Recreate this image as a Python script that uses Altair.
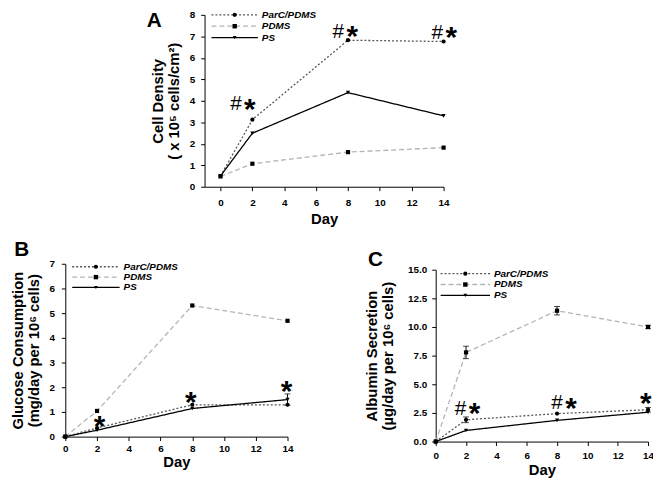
import altair as alt
import pandas as pd

FONT = "Liberation Sans"

days = [0, 2, 8, 14]
series = ["ParC/PDMS", "PDMS", "PS"]
x_ticks = [0, 2, 4, 6, 8, 10, 12, 14]

# Panel A - cell density
a_parc = [0.5, 3.12, 6.82, 6.76]
a_pdms = [0.48, 1.07, 1.61, 1.82]
a_ps = [0.5, 2.49, 4.38, 3.30]
no_err = [0, 0, 0, 0]
a_note_text = ["#*", "#*", "#*"]
a_note_day = [1.4, 7.83, 14.04]
a_note_val = [3.9, 7.28, 7.24]
a_yticks = [0, 1, 2, 3, 4, 5, 6, 7, 8]

# Panel B - glucose consumption
b_parc = [0.0, 0.35, 1.29, 1.29]
b_pdms = [0.0, 1.04, 5.31, 4.69]
b_ps = [0.0, 0.26, 1.14, 1.50]
b_ps_err = [0, 0, 0, 0.23]
b_note_text = ["*", "*", "*"]
b_note_day = [2.16, 7.9, 13.93]
b_note_val = [0.66, 1.64, 2.08]
b_yticks = [0, 1, 2, 3, 4, 5, 6, 7]

# Panel C - albumin secretion
c_parc = [0.0, 1.90, 2.44, 2.78]
c_parc_err = [0, 0.25, 0, 0.2]
c_pdms = [0.0, 7.78, 11.42, 10.0]
c_pdms_err = [0, 0.54, 0.37, 0.15]
c_ps = [0.0, 0.97, 1.85, 2.56]
c_note_text = ["#*", "#*", "*"]
c_note_day = [2.1, 8.46, 13.85]
c_note_val = [2.98, 3.47, 3.84]
c_yticks = [0, 2.5, 5, 7.5, 10, 12.5, 15]

colors = ["#555555", "#b4b4b4", "#000000"]
dashes = [[2, 2], [5, 3], [1, 0]]
shapes = ["circle", "square", "triangle-down"]
sizes = [18, 20, 14]

# overall drawing area (all three panels share one layered view)
W, H = 590, 432


def panel(vals, errs, notes, xdom, ydom, yvals, yfmt, ytitle, rect,
          letter, letter_xy, leg, xpads, ypads):
    x0, y0, x1, y1 = rect
    rows = []
    for s, v, e in zip(series, vals, errs):
        for d, y, er in zip(days, v, e):
            rows.append({"day": d, "series": s, "value": y,
                         "lo": y - er, "hi": y + er, "err": er})
    df = pd.DataFrame(rows)
    ndf = pd.DataFrame({"day": notes[1], "value": notes[2], "t": notes[0]})
    ndf["hash"] = ndf["t"].str.startswith("#")

    xaxis = alt.Axis(values=x_ticks, title="Day", grid=False, format="d",
                     orient="bottom", offset=y1 - H,
                     labelFont=FONT, labelFontWeight="bold", labelFontSize=10,
                     labelColor="black", tickColor="black", domainColor="black",
                     tickSize=4, labelPadding=xpads[0], titlePadding=xpads[1],
                     titleFont=FONT, titleFontSize=15, titleFontWeight="bold",
                     titleColor="black", labelFlush=False)
    yaxis = alt.Axis(values=yvals, title=ytitle, grid=False, format=yfmt,
                     orient="left", offset=-x0,
                     labelFont=FONT, labelFontWeight="bold", labelFontSize=10,
                     labelColor="black", tickColor="black", domainColor="black",
                     tickSize=4, labelPadding=ypads[0], titlePadding=ypads[1],
                     titleFont=FONT, titleFontSize=15, titleFontWeight="bold",
                     titleColor="black", titleLineHeight=16, labelFlush=False)
    xs = alt.Scale(domain=xdom, range=[x0, x1], nice=False, zero=False)
    ys = alt.Scale(domain=ydom, range=[y1, y0], nice=False, zero=False)

    def X(f="day"):
        return alt.X(f + ":Q", scale=xs, axis=xaxis)

    def Y(f):
        return alt.Y(f + ":Q", scale=ys, axis=yaxis)

    base = alt.Chart(df)
    lines = base.mark_line(strokeWidth=1.3).encode(
        x=X(), y=Y("value"),
        color=alt.Color("series:N", scale=alt.Scale(domain=series, range=colors), legend=None),
        strokeDash=alt.StrokeDash("series:N", scale=alt.Scale(domain=series, range=dashes), legend=None),
    )
    pts = base.mark_point(filled=True, color="black", opacity=1, size=18).encode(
        x=X(), y=Y("value"),
        shape=alt.Shape("series:N", scale=alt.Scale(domain=series, range=shapes), legend=None),
    )
    eb = base.transform_filter("datum.err > 0")
    erule = eb.mark_rule(color="black", strokeWidth=1).encode(x=X(), y=Y("lo"), y2="hi:Q")
    etop = eb.mark_tick(orient="horizontal", color="black", size=6, thickness=1).encode(x=X(), y=Y("hi"))
    ebot = eb.mark_tick(orient="horizontal", color="black", size=6, thickness=1).encode(x=X(), y=Y("lo"))

    hash_df = ndf[ndf["hash"]]
    star_solo = ndf[~ndf["hash"]]
    layers = [lines, erule, etop, ebot, pts]
    if len(hash_df):
        layers.append(alt.Chart(hash_df).mark_text(
            font=FONT, fontSize=21, fontWeight="normal", color="black",
            baseline="alphabetic", align="center", dx=-7, dy=7.5, text="#").encode(
            x=X(), y=Y("value")))
        layers.append(alt.Chart(hash_df).mark_text(
            font=FONT, fontSize=30, fontWeight="bold", color="black",
            baseline="alphabetic", align="center", dx=7, dy=16, text="*").encode(
            x=X(), y=Y("value")))
    if len(star_solo):
        layers.append(alt.Chart(star_solo).mark_text(
            font=FONT, fontSize=30, fontWeight="bold", color="black",
            baseline="alphabetic", align="center", dy=16, text="*").encode(
            x=X(), y=Y("value")))

    lx0, lx1, ly0, ldy = leg
    for i, s in enumerate(series):
        yi = y0 + ly0 + i * ldy
        one = alt.Chart(pd.DataFrame({"s": [s]}))
        layers.append(one.mark_rule(color=colors[i], strokeDash=dashes[i], strokeWidth=1.3).encode(
            x=alt.value(x0 + lx0), x2=alt.value(x0 + lx1), y=alt.value(yi)))
        layers.append(one.mark_point(shape=shapes[i], filled=True, color="black", opacity=1,
                                     size=sizes[i]).encode(
            x=alt.value(x0 + (lx0 + lx1) / 2), y=alt.value(yi)))
        layers.append(one.mark_text(align="left", baseline="middle", font=FONT, fontSize=10,
                                    fontStyle="italic", fontWeight="bold", color="black").encode(
            x=alt.value(x0 + lx1 + 4), y=alt.value(yi), text="s:N"))

    layers.append(alt.Chart(pd.DataFrame({"l": [letter]})).mark_text(
        font=FONT, fontSize=21, fontWeight="bold", color="black",
        align="center", baseline="middle").encode(
        x=alt.value(x0 + letter_xy[0]), y=alt.value(y0 + letter_xy[1]), text="l:N"))

    return alt.layer(*layers)


A = panel([a_parc, a_pdms, a_ps], [no_err, no_err, no_err],
          (a_note_text, a_note_day, a_note_val), [-1, 14], [0, 8], a_yticks, "d",
          ["Cell Density", "( x 10⁵ cells/cm²)"], (141, 0, 383, 174),
          "A", (-51, 6), (7, 54, 0, 11.5), (7, 4), (6, 8))

B = panel([b_parc, b_pdms, b_ps], [no_err, no_err, b_ps_err],
          (b_note_text, b_note_day, b_note_val), [0, 14], [0, 7], b_yticks, "d",
          ["Glucose Consumption", "(mg/day per 10⁶ cells)"], (0, 252, 225, 427),
          "B", (-44, -14), (7, 55, 3, 10.5), (3, 1), (7, 8))

C = panel([c_parc, c_pdms, c_ps], [c_parc_err, c_pdms_err, no_err],
          (c_note_text, c_note_day, c_note_val), [0, 14], [0, 15], c_yticks, ".1f",
          ["Albumin Secretion", "(µg/day per 10⁶ cells)"], (375, 258, 590, 432),
          "C", (-61, -10), (5, 55, 4, 11), (5, 2), (5, 12))

chart = alt.layer(A, B, C).resolve_scale(
    x="independent", y="independent"
).resolve_axis(
    x="independent", y="independent"
).properties(
    width=W, height=H,
    autosize=alt.AutoSizeParams(type="none"),
    padding={"left": 58, "top": 4, "right": 5, "bottom": 39},
).configure_view(strokeWidth=0)

chart.save("out.html", embed_options={"renderer": "svg", "actions": False})
